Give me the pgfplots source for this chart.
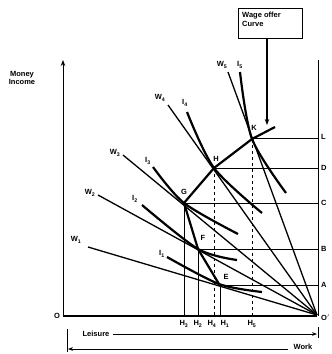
\documentclass[border=0pt]{standalone}
\usepackage{pgfplots}
\pgfplotsset{compat=1.18}
\usepackage{fontspec}
\setmainfont{Liberation Sans}
\usetikzlibrary{arrows.meta}
\begin{document}
\begin{tikzpicture}
\begin{axis}[
  width=332pt, height=354pt, scale only axis,
  xmin=0, xmax=332, ymin=0, ymax=354, y dir=reverse,
  axis lines=none, clip=false,
  cycle list={{black,solid,mark=none,line width=0.9pt}},
]
\addplot[draw=none] coordinates {(0,0) (332,354)};
% axes
\addplot[black, line width=1pt, -{Stealth[length=6pt]}] coordinates {(63,316) (63,60)};
\addplot[black, line width=1.2pt] coordinates {(63,316) (317,316)};
\addplot[black, line width=1pt] coordinates {(318,60) (318,316)};
% budget (wage) lines from O'
\addplot[black, line width=1.3pt] coordinates {(88,247) (317,315)};
\addplot[black, line width=1.3pt] coordinates {(98,195) (317,315)};
\addplot[black, line width=1.3pt] coordinates {(123,155) (317,315)};
\addplot[black, line width=1.3pt] coordinates {(168,105) (317,315)};
\addplot[black, line width=1.3pt] coordinates {(228,72) (317,315)};
% indifference curves
\addplot[black, line width=2.2pt, smooth] coordinates {(167,257) (219,284) (262,292)};
\addplot[black, line width=2.2pt, smooth] coordinates {(142,205) (198,249) (237,260)};
\addplot[black, line width=2.2pt, smooth] coordinates {(153,167) (184,203) (238,234)};
\addplot[black, line width=2.2pt, smooth] coordinates {(187,112) (214,168) (262,213)};
\addplot[black, line width=2.2pt, smooth] coordinates {(240,72) (252,139) (286,193)};
% wage offer curve
\addplot[black, line width=2.2pt] coordinates {(219,284) (198,249) (184,203) (214,168) (252,139) (275,127)};
% horizontals
\addplot[black, line width=1pt] coordinates {(252,138) (318,138)};
\addplot[black, line width=1pt] coordinates {(214,168) (318,168)};
\addplot[black, line width=1pt] coordinates {(184,203) (318,203)};
\addplot[black, line width=1pt] coordinates {(198,249) (318,249)};
\addplot[black, line width=1pt] coordinates {(219,285) (318,285)};
% verticals
\addplot[black, line width=1pt] coordinates {(184,203) (184,316)};
\addplot[black, line width=1pt] coordinates {(198,249) (198,316)};
\addplot[black, line width=1pt, dashed] coordinates {(214,168) (214,316)};
\addplot[black, line width=1pt] coordinates {(220,284) (220,316)};
\addplot[black, line width=1pt, dashed] coordinates {(252,139) (252,316)};
% box and arrow
\addplot[black, line width=0.9pt] coordinates {(238,8) (302,8) (302,38) (238,38) (238,8)};
\addplot[black, line width=1.3pt, -{Stealth[length=6pt]}] coordinates {(267,38) (267,125)};
% bottom arrows
\addplot[black, line width=1pt] coordinates {(67,329) (67,352)};
\addplot[black, line width=1pt] coordinates {(318,327) (318,338)};
\addplot[black, line width=1pt, -{Stealth[length=5pt]}] coordinates {(113,334) (317,334)};
\addplot[black, line width=1pt, -{Stealth[length=5pt]}] coordinates {(288,349) (68,349)};
% labels
\begin{scope}[every node/.style={font=\fontsize{7.5}{8.5}\selectfont\bfseries, inner sep=0pt}]
\node[align=left, anchor=north west] at (axis cs:242,12) {Wage offer\\Curve};
\node[align=center] at (axis cs:22,78) {Money\\Income};
\node at (axis cs:96,334) {Leisure};
\node at (axis cs:303,347) {Work};
\node at (axis cs:57,316) {O};
\node[anchor=west] at (axis cs:321,318) {O$'$};
\node[anchor=west] at (axis cs:321,137) {L};
\node[anchor=west] at (axis cs:321,168) {D};
\node[anchor=west] at (axis cs:321,203) {C};
\node[anchor=west] at (axis cs:321,249) {B};
\node[anchor=west] at (axis cs:321,285) {A};
\node at (axis cs:254,128) {K};
\node at (axis cs:216,159) {H};
\node at (axis cs:184,192) {G};
\node at (axis cs:203,238) {F};
\node at (axis cs:226,277) {E};
\node at (axis cs:184,324) {H\textsubscript{3}};
\node at (axis cs:198,324) {H\textsubscript{2}};
\node at (axis cs:212,324) {H\textsubscript{4}};
\node at (axis cs:225,324) {H\textsubscript{1}};
\node at (axis cs:252,324) {H\textsubscript{5}};
\node at (axis cs:76,240) {W\textsubscript{1}};
\node at (axis cs:90,193) {W\textsubscript{2}};
\node at (axis cs:115,153) {W\textsubscript{3}};
\node at (axis cs:160,98) {W\textsubscript{4}};
\node at (axis cs:222,65) {W\textsubscript{5}};
\node at (axis cs:162,254) {I\textsubscript{1}};
\node at (axis cs:135,199) {I\textsubscript{2}};
\node at (axis cs:148,161) {I\textsubscript{3}};
\node at (axis cs:185,103) {I\textsubscript{4}};
\node at (axis cs:240,65) {I\textsubscript{5}};
\end{scope}
\end{axis}
\end{tikzpicture}
\end{document}
